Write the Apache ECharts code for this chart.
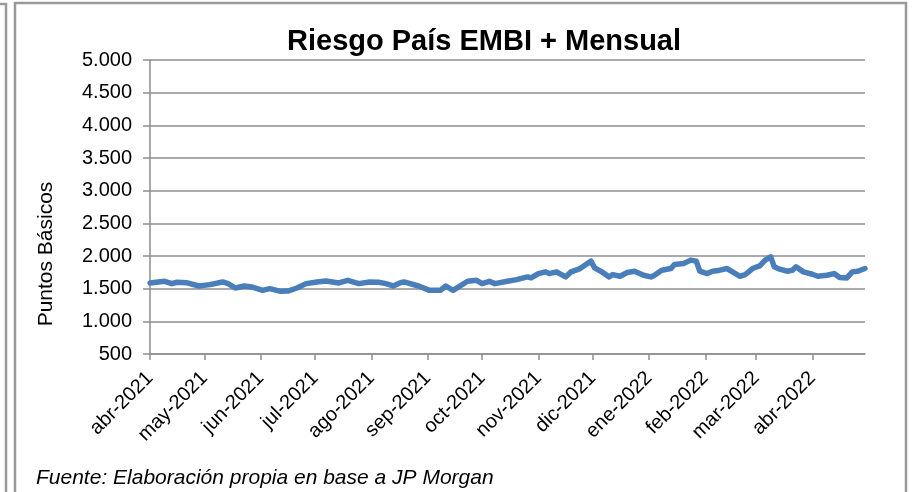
<!DOCTYPE html>
<html>
<head>
<meta charset="utf-8">
<script src="https://cdn.jsdelivr.net/npm/echarts@6/dist/echarts.min.js"></script>
<style>
html,body{margin:0;padding:0;background:#fff;}
#chart{width:915px;height:492px;}
</style>
</head>
<body>
<div id="chart"></div>
<script>
// ---- Data ----
const dates = [
  '2021-04-01','2021-04-09','2021-04-13','2021-04-16','2021-04-21','2021-04-28',
  '2021-05-04','2021-05-11','2021-05-14','2021-05-18','2021-05-23','2021-05-27',
  '2021-06-02','2021-06-06','2021-06-12','2021-06-16','2021-06-21','2021-06-26',
  '2021-07-02','2021-07-07','2021-07-14','2021-07-19','2021-07-25','2021-07-31',
  '2021-08-05','2021-08-09','2021-08-13','2021-08-17','2021-08-19','2021-08-27',
  '2021-09-02','2021-09-08','2021-09-11','2021-09-15','2021-09-23','2021-09-28',
  '2021-10-01','2021-10-05','2021-10-08','2021-10-15','2021-10-20','2021-10-26','2021-10-28',
  '2021-11-01','2021-11-05','2021-11-07','2021-11-11','2021-11-16','2021-11-19','2021-11-24','2021-11-28','2021-11-30',
  '2021-12-02','2021-12-06','2021-12-10','2021-12-12','2021-12-16','2021-12-20','2021-12-24','2021-12-29',
  '2022-01-02','2022-01-04','2022-01-08','2022-01-13','2022-01-15','2022-01-20','2022-01-24','2022-01-25','2022-01-27','2022-01-29',
  '2022-02-02','2022-02-05','2022-02-09','2022-02-13','2022-02-16','2022-02-20','2022-02-23','2022-02-27',
  '2022-03-03','2022-03-06','2022-03-09','2022-03-11','2022-03-14','2022-03-18','2022-03-21','2022-03-23','2022-03-27',
  '2022-04-01','2022-04-04','2022-04-09','2022-04-13','2022-04-16','2022-04-20','2022-04-23','2022-04-26','2022-04-30'
];
const embiValues = [
  1587,1613,1577,1598,1592,1541,
  1562,1603,1577,1510,1541,1526,
  1474,1500,1459,1464,1510,1577,
  1603,1618,1587,1628,1577,1603,
  1598,1577,1541,1592,1603,1541,
  1474,1474,1541,1474,1613,1628,
  1577,1613,1577,1613,1639,1680,1664,
  1731,1757,1731,1757,1680,1757,1808,1885,1921,
  1819,1757,1680,1716,1690,1747,1767,1706,
  1680,1706,1783,1808,1870,1885,1937,1963,1921,1767,
  1731,1767,1783,1808,1757,1690,1716,1808,
  1849,1937,1988,1834,1798,1767,1783,1834,1757,
  1721,1690,1706,1731,1670,1664,1757,1767,1808
];
const tickDates = ['2021-04-01','2021-05-01','2021-06-01','2021-07-01','2021-08-01','2021-09-01','2021-10-01','2021-11-01','2021-12-01','2022-01-01','2022-02-01','2022-03-01','2022-04-01'];
const tickLabels = ['abr-2021','may-2021','jun-2021','jul-2021','ago-2021','sep-2021','oct-2021','nov-2021','dic-2021','ene-2022','feb-2022','mar-2022','abr-2022'];
const axisStart = '2021-04-01';
const axisEnd = '2022-04-30';
const titleText = 'Riesgo País EMBI + Mensual';
const yAxisTitle = 'Puntos Básicos';
const sourceText = 'Fuente: Elaboración propia en base a JP Morgan';

// ---- Helpers ----
function dayOffset(s) {
  const p = s.split('-').map(Number);
  const b = axisStart.split('-').map(Number);
  return Math.round((Date.UTC(p[0], p[1] - 1, p[2]) - Date.UTC(b[0], b[1] - 1, b[2])) / 86400000);
}
const tickOffsets = tickDates.map(dayOffset);
const labelByOffset = {};
tickOffsets.forEach((o, i) => { labelByOffset[o] = tickLabels[i]; });
function fmtThousands(v) {
  return String(v).replace(/\B(?=(\d{3})+(?!\d))/g, '.');
}

const FONT = "'Liberation Sans', Arial, sans-serif";
const GRID_GRAY = '#8e8e8e';

const chart = echarts.init(document.getElementById('chart'));
chart.setOption({
  backgroundColor: '#ffffff',
  animation: false,
  title: [{
    text: titleText,
    left: 282,
    top: 22,
    textStyle: { fontFamily: FONT, fontSize: 29, fontWeight: 'bold', color: '#000' }
  }, {
    text: sourceText,
    left: 31,
    top: 463,
    textStyle: { fontFamily: FONT, fontSize: 21, fontWeight: 'normal', fontStyle: 'italic', color: '#000' }
  }],
  grid: { left: 150, right: 50, top: 60, bottom: 138 },
  xAxis: {
    type: 'value',
    min: 0,
    max: dayOffset(axisEnd),
    splitLine: { show: false },
    axisLine: { show: true, lineStyle: { color: GRID_GRAY, width: 1.5 } },
    axisTick: { show: true, customValues: tickOffsets, length: 6, lineStyle: { color: GRID_GRAY, width: 1.5 } },
    axisLabel: {
      customValues: tickOffsets,
      formatter: v => labelByOffset[v] || '',
      rotate: 45,
      margin: 21,
      fontFamily: FONT,
      fontSize: 20,
      color: '#000'
    }
  },
  yAxis: {
    type: 'value',
    min: 500,
    max: 5000,
    interval: 500,
    name: yAxisTitle,
    nameLocation: 'middle',
    nameGap: 93,
    nameTextStyle: { fontFamily: FONT, fontSize: 21, color: '#000', padding: [0, 94, 0, 0] },
    axisLine: { show: true, lineStyle: { color: GRID_GRAY, width: 1.5 } },
    axisTick: { show: true, inside: false, length: 7, lineStyle: { color: GRID_GRAY, width: 1.5 } },
    splitLine: { show: true, lineStyle: { color: GRID_GRAY, width: 1.5 } },
    axisLabel: {
      formatter: v => fmtThousands(v),
      margin: 18,
      fontFamily: FONT,
      fontSize: 20,
      color: '#000'
    }
  },
  series: [{
    type: 'line',
    data: dates.map((d, i) => [dayOffset(d), embiValues[i]]),
    showSymbol: false,
    lineStyle: { color: '#4A7EBB', width: 5.5, join: 'round', cap: 'round' },
    itemStyle: { color: '#4A7EBB' }
  }],
  graphic: [{
    type: 'rect',
    shape: { x: 15, y: 3, width: 891, height: 520 },
    style: { fill: 'none', stroke: '#9a9a9a', lineWidth: 2.5 },
    silent: true
  }, {
    type: 'polyline',
    shape: { points: [[-5, 4], [6, 4], [6, 520]] },
    style: { fill: 'none', stroke: '#9a9a9a', lineWidth: 2.5 },
    silent: true
  }]
});
</script>
</body>
</html>
